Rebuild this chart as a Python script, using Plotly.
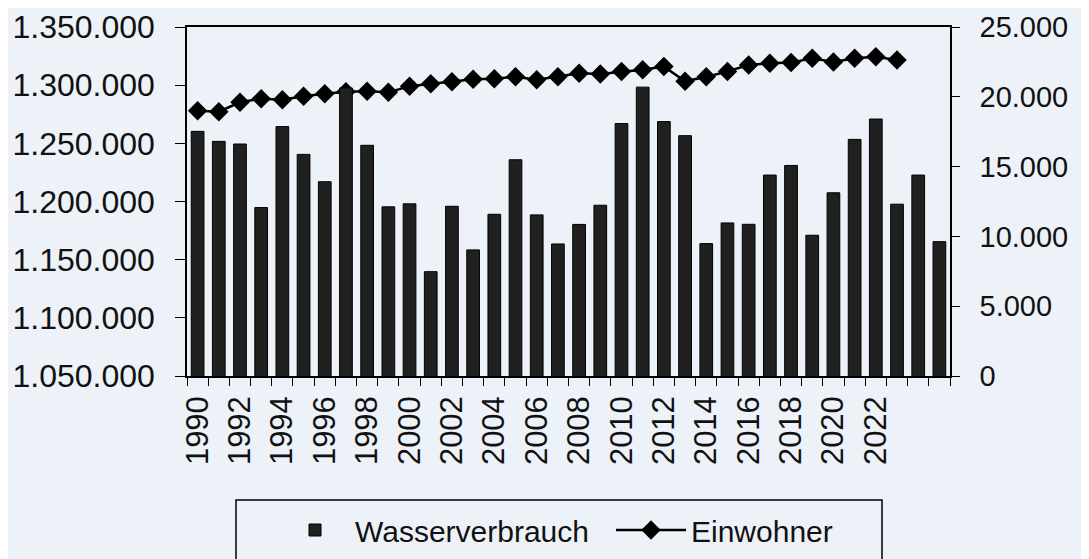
import plotly.graph_objects as go

years = list(range(1990, 2026))
wasserverbrauch = [
    1260300, 1251700, 1249400, 1194800, 1264400, 1240500, 1217000, 1297600,
    1248300, 1195400, 1198000, 1139700, 1195900, 1158400, 1189000, 1235900,
    1188500, 1163500, 1180300, 1196800, 1267000, 1298300, 1268700, 1256600,
    1163800, 1181600, 1180400, 1222700, 1231000, 1171000, 1207500, 1253400,
    1270900, 1197700, 1222700, 1165500,
]
einwohner_years = list(range(1990, 2024))
einwohner = [
    19000, 18930, 19610, 19860, 19790, 20040, 20215, 20360, 20390, 20320,
    20750, 20930, 21070, 21250, 21290, 21430, 21215, 21430, 21690, 21640,
    21810, 21930, 22165, 21110, 21430, 21810, 22285, 22410, 22450, 22765,
    22500, 22765, 22860, 22640,
]
label_years = list(range(1990, 2023, 2))
left_ticks = list(range(1050000, 1350001, 50000))
right_ticks = list(range(0, 25001, 5000))

FONT = "Liberation Sans, Arial, sans-serif"
BG = "#edf2f8"
INK = "#111111"

# the page body adds an 8px offset; the figure is sized to fill the remaining window
W, H = 1081, 551

fig = go.Figure()
# bars on the overlaying (left) axis so they are drawn above the line
fig.add_trace(go.Bar(
    x=years, y=wasserverbrauch, name="Wasserverbrauch", yaxis="y2",
    width=0.6, marker=dict(color="#202020", line=dict(color="#000000", width=1)),
))
fig.add_trace(go.Scatter(
    x=einwohner_years, y=einwohner, name="Einwohner", yaxis="y",
    mode="lines+markers",
    line=dict(color="#000000", width=2.5),
    marker=dict(symbol="diamond", size=15, color="#000000"),
))

fig.update_layout(
    width=W, height=H,
    paper_bgcolor=BG, plot_bgcolor=BG,
    margin=dict(l=179, r=139, t=19, b=183, autoexpand=False),
    separators=",.",
    font=dict(family=FONT, color=INK, size=28),
    showlegend=True,
    xaxis=dict(
        range=[1989.5, 2025.5],
        tickvals=label_years,
        ticktext=[str(y) for y in label_years],
        tickangle=-90,
        ticks="", ticklen=0,
        showline=True, linecolor="#000000", linewidth=1.5, mirror=True,
        showgrid=False, zeroline=False,
        tickfont=dict(size=31, family=FONT, color=INK),
        ticklabelstandoff=6,
        minor=dict(
            tickvals=[y - 0.5 for y in years] + [years[-1] + 0.5],
            ticks="outside", ticklen=8, tickcolor="#000000", tickwidth=1.3,
            showgrid=False,
        ),
    ),
    yaxis2=dict(
        range=[1050000, 1350000],
        tickvals=left_ticks,
        tickformat=",d",
        overlaying="y", side="left",
        ticks="outside", ticklen=10, tickcolor="#000000", tickwidth=1.3,
        showline=True, linecolor="#000000", linewidth=1.5,
        showgrid=False, zeroline=False,
        tickfont=dict(size=32, family=FONT, color=INK),
        ticklabelstandoff=14,
    ),
    yaxis=dict(
        range=[0, 25000],
        tickvals=right_ticks,
        tickformat=",d",
        side="right",
        ticks="outside", ticklen=8, tickcolor="#000000", tickwidth=1.3,
        showline=True, linecolor="#000000", linewidth=1.5,
        showgrid=False, zeroline=False,
        tickfont=dict(size=29, family=FONT, color=INK),
        ticklabelstandoff=14,
    ),
    legend=dict(
        orientation="h",
        xref="container", yref="container",
        x=267 / W, xanchor="left",
        y=1 - 496 / H, yanchor="top",
        bgcolor="rgba(0,0,0,0)",
        font=dict(size=30, family=FONT, color=INK),
        entrywidth=251,
        itemwidth=70,
        traceorder="normal",
    ),
    shapes=[dict(
        type="rect", xref="paper", yref="paper",
        x0=(236 - 187) / 763, x1=(882 - 187) / 763,
        y0=(376 - 500) / 349, y1=(376 - 562) / 349,
        line=dict(color="#000000", width=1.5),
        fillcolor="rgba(0,0,0,0)", layer="above",
    )],
)

fig.write_html("out.html")
